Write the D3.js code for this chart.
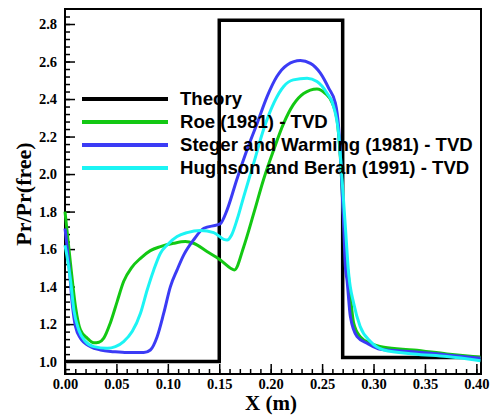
<!DOCTYPE html>
<html>
<head>
<meta charset="utf-8">
<script src="https://cdn.jsdelivr.net/npm/d3@7"></script>
<style>
  body { margin: 0; background: #fff; }
  svg { display: block; }
</style>
</head>
<body>
<script>
const width = 492
const height = 417

// series as [x (m), Pr/Pr(free)]
const theory = [[0, 1.0], [0.15, 1.0], [0.15, 2.82], [0.27, 2.82], [0.27, 1.022], [0.404, 1.022]]
const roe = [[0, 1.80], [0.0053, 1.525], [0.0102, 1.293], [0.015, 1.169], [0.0216, 1.125], [0.028, 1.10],
  [0.033, 1.103], [0.0377, 1.125], [0.044, 1.205], [0.0507, 1.32], [0.057, 1.427], [0.065, 1.503],
  [0.0734, 1.551], [0.083, 1.592], [0.0928, 1.613], [0.1057, 1.631], [0.117, 1.64], [0.125, 1.631],
  [0.138, 1.587], [0.151, 1.542], [0.161, 1.498], [0.1647, 1.489], [0.1738, 1.613], [0.1835, 1.79],
  [0.193, 1.97], [0.203, 2.13], [0.2126, 2.27], [0.222, 2.37], [0.232, 2.43], [0.245, 2.454],
  [0.253, 2.43], [0.26, 2.378], [0.2645, 2.29], [0.2677, 2.093], [0.2703, 1.827], [0.2726, 1.613],
  [0.276, 1.436], [0.2807, 1.205], [0.287, 1.133], [0.297, 1.098], [0.31, 1.077], [0.339, 1.062],
  [0.3714, 1.041], [0.404, 1.023]]
const steger = [[0, 1.71], [0.0037, 1.525], [0.007, 1.311], [0.0102, 1.187], [0.015, 1.125], [0.0248, 1.08],
  [0.0345, 1.062], [0.0474, 1.053], [0.0604, 1.048], [0.0766, 1.048], [0.083, 1.062], [0.0896, 1.133],
  [0.096, 1.258], [0.1025, 1.40], [0.109, 1.489], [0.1155, 1.569], [0.125, 1.649], [0.135, 1.711],
  [0.148, 1.729], [0.151, 1.735], [0.1576, 1.809], [0.167, 1.97], [0.177, 2.13], [0.1868, 2.27],
  [0.1965, 2.413], [0.206, 2.52], [0.216, 2.582], [0.2289, 2.605], [0.2386, 2.59], [0.2483, 2.538],
  [0.2564, 2.458], [0.2629, 2.378], [0.266, 2.253], [0.2687, 2.005], [0.271, 1.72], [0.2726, 1.507],
  [0.2742, 1.436], [0.2775, 1.24], [0.284, 1.133], [0.2937, 1.098], [0.3066, 1.066], [0.339, 1.053],
  [0.3714, 1.036], [0.404, 1.018]]
const hughson = [[0, 1.62], [0.002, 1.56], [0.0053, 1.436], [0.0086, 1.276], [0.0134, 1.169], [0.02, 1.107],
  [0.028, 1.08], [0.041, 1.071], [0.049, 1.08], [0.057, 1.107], [0.0653, 1.16], [0.0734, 1.258],
  [0.0799, 1.382], [0.0863, 1.489], [0.0928, 1.578], [0.0993, 1.622], [0.109, 1.667], [0.1188, 1.688],
  [0.1317, 1.699], [0.1446, 1.688], [0.1543, 1.652], [0.1576, 1.648], [0.162, 1.675], [0.1675, 1.76],
  [0.1738, 1.88], [0.1835, 2.058], [0.193, 2.236], [0.203, 2.378], [0.2126, 2.467], [0.222, 2.502],
  [0.2354, 2.511], [0.245, 2.493], [0.2548, 2.431], [0.2612, 2.36], [0.266, 2.218], [0.2694, 1.97],
  [0.2726, 1.72], [0.2758, 1.471], [0.2807, 1.311], [0.287, 1.187], [0.297, 1.107], [0.31, 1.062],
  [0.339, 1.041], [0.3714, 1.027], [0.404, 1.005]]

const seriesNames = ["Theory", "Roe (1981) - TVD", "Steger and Warming (1981) - TVD", "Hughson and Beran (1991) - TVD"]
const seriesColors = ["#000000", "#13c813", "#3b3bf5", "#1cf4f4"]
const xTicks = [0, 0.05, 0.10, 0.15, 0.20, 0.25, 0.30, 0.35, 0.40]
const yTicks = [1.0, 1.2, 1.4, 1.6, 1.8, 2.0, 2.2, 2.4, 2.6, 2.8]
const xMinor = d3.range(0, 41).map(i => i / 100)
const yMinor = d3.range(24, 73).map(i => i * 0.04)

const svg = d3.select("body").append("svg")
    .attr("width", width)
    .attr("height", height)

const m = {left: 65, right: 481, top: 9, bottom: 374}
const x = d3.scaleLinear().domain([0, 0.4045]).range([m.left, m.right])
const y = d3.scaleLinear().domain([0.934, 2.88]).range([m.bottom, m.top])

const serif = "'Liberation Serif', 'Times New Roman', serif"
const sans = "'Liberation Sans', Arial, sans-serif"

// minor ticks first, then the labelled ones
svg.append("g")
    .attr("transform", `translate(0,${m.bottom})`)
    .call(d3.axisBottom(x).tickValues(xMinor).tickSize(-5).tickSizeOuter(0).tickFormat(""))
    .call(g => g.select(".domain").remove())
svg.append("g")
    .attr("transform", `translate(${m.left},0)`)
    .call(d3.axisLeft(y).tickValues(yMinor.filter(v => v > 0.94 && v < 2.87)).tickSize(-5).tickSizeOuter(0).tickFormat(""))
    .call(g => g.select(".domain").remove())

const xAxis = svg.append("g")
    .attr("transform", `translate(0,${m.bottom})`)
    .call(d3.axisBottom(x).tickValues(xTicks).tickSize(-10).tickSizeOuter(0).tickPadding(5).tickFormat(d3.format(".2f")))
const yAxis = svg.append("g")
    .attr("transform", `translate(${m.left},0)`)
    .call(d3.axisLeft(y).tickValues(yTicks).tickSize(-10).tickSizeOuter(0).tickPadding(8).tickFormat(d3.format(".1f")))

;[xAxis, yAxis].forEach(g => {
  g.select(".domain").remove()
  g.selectAll("text")
      .attr("font-family", serif)
      .attr("font-weight", "bold")
      .attr("font-size", 14.5)
      .attr("fill", "#000")
})
svg.selectAll(".tick line").attr("stroke", "#000").attr("stroke-width", 1.5)

// frame
svg.append("rect")
    .attr("x", m.left).attr("y", m.top)
    .attr("width", m.right - m.left).attr("height", m.bottom - m.top)
    .attr("fill", "none")
    .attr("stroke", "#000")
    .attr("stroke-width", 2)

const line = d3.line()
    .x(d => x(d[0]))
    .y(d => y(d[1]))

svg.append("path")
    .datum(theory)
    .attr("d", line)
    .attr("fill", "none")
    .attr("stroke", seriesColors[0])
    .attr("stroke-width", 3.5)

const curve = d3.line()
    .curve(d3.curveMonotoneX)
    .x(d => x(d[0]))
    .y(d => y(d[1]))

;[roe, steger, hughson].forEach((s, i) => {
  svg.append("path")
      .datum(s)
      .attr("d", curve)
      .attr("fill", "none")
      .attr("stroke", seriesColors[i + 1])
      .attr("stroke-width", 3)
      .attr("stroke-linejoin", "round")
})

// legend
const legend = svg.append("g")
seriesNames.forEach((name, i) => {
  const ly = 99 + i * 23
  legend.append("line")
      .attr("x1", 82).attr("x2", 168)
      .attr("y1", ly).attr("y2", ly)
      .attr("stroke", seriesColors[i])
      .attr("stroke-width", 4)
  legend.append("text")
      .attr("x", 180)
      .attr("y", ly + 6)
      .attr("font-family", sans)
      .attr("font-weight", "bold")
      .attr("font-size", 18.6)
      .text(name)
})

// axis titles
svg.append("text")
    .attr("x", 271)
    .attr("y", 410)
    .attr("text-anchor", "middle")
    .attr("font-family", serif)
    .attr("font-weight", "bold")
    .attr("font-size", 21)
    .text("X (m)")

svg.append("text")
    .attr("transform", "translate(31,194) rotate(-90)")
    .attr("text-anchor", "middle")
    .attr("font-family", serif)
    .attr("font-weight", "bold")
    .attr("font-size", 22)
    .text("Pr/Pr(free)")
</script>
</body>
</html>
